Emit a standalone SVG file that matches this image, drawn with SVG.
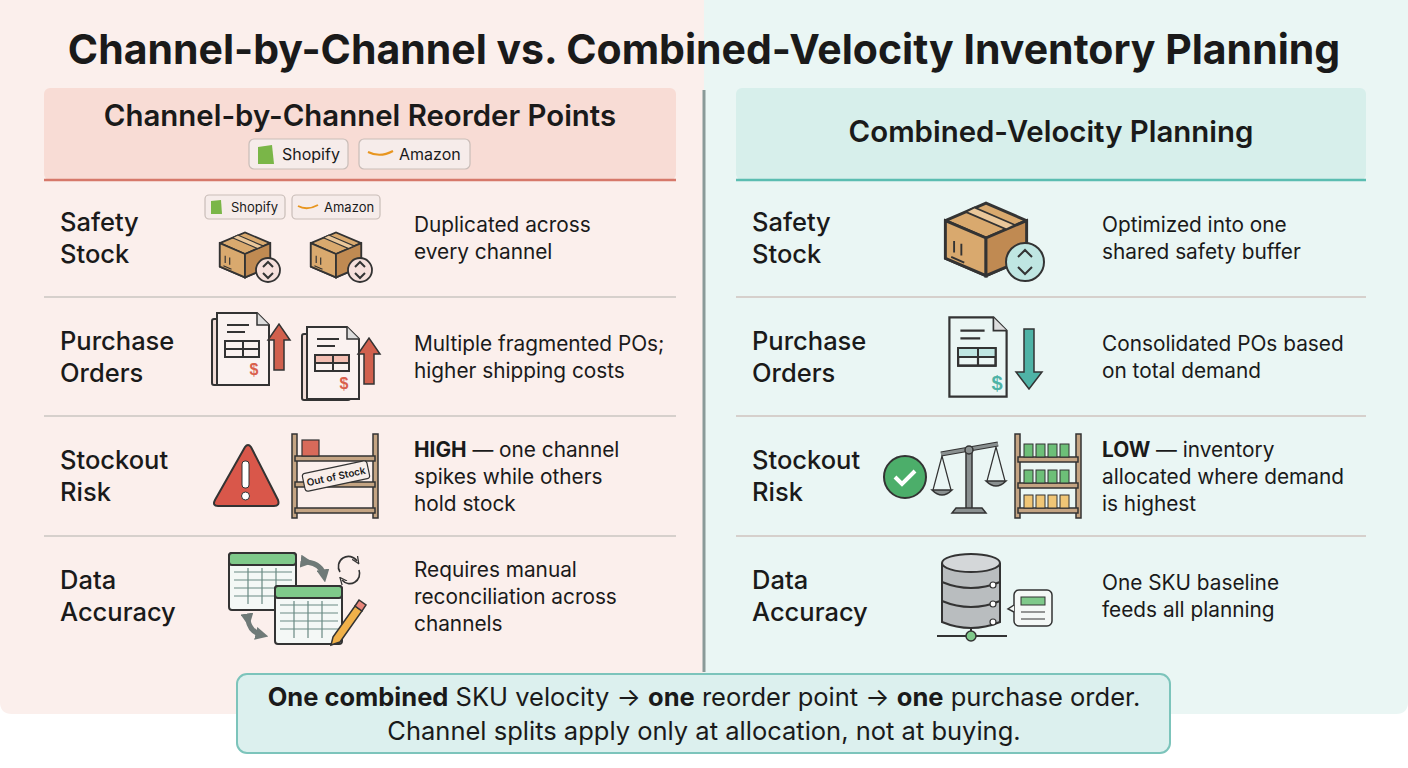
<svg xmlns="http://www.w3.org/2000/svg" width="1408" height="768" viewBox="0 0 1408 768">
<style>
.t{font-family:Inter,"Liberation Sans",sans-serif;fill:#1a1a1a}
.h{font-size:29.4px;font-weight:600}
.lb{font-size:25.5px;font-weight:500}
.d{font-size:20.8px}
.sep{stroke:#d6d0cc;stroke-width:2}
.ln{stroke:#333;stroke-width:2;fill:none}
.chip{fill:#f6ecea;stroke:#c9bdb8;stroke-width:1.2}
</style>
<defs>
<g id="box">
<path d="M-28,-12 L0,-24 L28,-12 L28,14 L0,26 L-28,14Z" fill="#d9a96e" stroke="#333" stroke-width="2"/>
<path d="M-28,-12 L0,0 L28,-12 M0,0 L0,26" class="ln"/>
<path d="M-28,-12 L0,0 L0,26 L-28,14Z" fill="#d9a96e" stroke="#333" stroke-width="2"/>
<path d="M0,0 L28,-12 L28,14 L0,26Z" fill="#c08a52" stroke="#333" stroke-width="2"/>
<path d="M-14,-18 L14,-6 L20,-9 L-8,-21Z" fill="#eac79a" stroke="#333" stroke-width="1.2"/>
<path d="M-22,10 V2 M-17,12 V4 M-24,13 L-15,17" stroke="#333" stroke-width="1.3"/>
</g>
<g id="doc">
<path d="M-26,-36 L14,-36 L26,-24 L26,36 L-26,36Z" stroke="#333" stroke-width="2"/>
<path d="M14,-36 L14,-24 L26,-24" stroke="#333" stroke-width="1.5" fill="#ddd"/>
<path d="M-16,-24 H6 M-16,-17 H2" class="ln"/>
<rect x="-18" y="-8" width="34" height="16" fill="none" stroke="#333" stroke-width="2"/>
<path d="M-18,0 H16 M0,-8 V8" class="ln"/>
</g>
<marker id="ah" viewBox="0 0 10 10" refX="5" refY="5" markerWidth="2.6" markerHeight="2.6" orient="auto"><path d="M0,0 L10,5 L0,10Z" fill="#6f7a78"/></marker>
<marker id="ah2" viewBox="0 0 10 10" refX="5" refY="5" markerWidth="5" markerHeight="5" orient="auto"><path d="M0,1 L9,5 L0,9" fill="none" stroke="#333" stroke-width="1.6"/></marker>
</defs>
<rect width="1408" height="768" fill="#fff"/>
<path d="M0,0 H704 V714 H12 Q0,714 0,702Z" fill="#fbefec"/>
<path d="M704,0 H1408 V702 Q1408,714 1396,714 H704Z" fill="#eaf6f4"/>
<text x="704" y="64" text-anchor="middle" class="t" font-size="41" font-weight="700">Channel-by-Channel vs. Combined-Velocity Inventory Planning</text>
<line x1="704" y1="90" x2="704" y2="672" stroke="#8a9a98" stroke-width="3"/>

<g id="left-header">
<rect x="44" y="88" width="632" height="92" rx="6" fill="#f8dcd5"/>
<line x1="44" y1="180" x2="676" y2="180" stroke="#d6786a" stroke-width="2.5"/>
<text x="360" y="126" text-anchor="middle" class="t h">Channel-by-Channel Reorder Points</text>
<rect x="249" y="139" width="99" height="30" rx="5" class="chip"/>
<path d="M258,147 L272,145 L274,164 L258,164Z" fill="#7ab648"/>
<text x="282" y="160" class="t" font-size="16">Shopify</text>
<rect x="359" y="139" width="111" height="30" rx="5" class="chip"/>
<path d="M368,152 Q380,158 393,151" stroke="#e8951e" stroke-width="2" fill="none"/>
<text x="399" y="160" class="t" font-size="16">Amazon</text>
</g>
<g id="right-header">
<rect x="736" y="88" width="630" height="92" rx="6" fill="#d7efeb"/>
<line x1="736" y1="180" x2="1366" y2="180" stroke="#5bbdb1" stroke-width="2.5"/>
<text x="1051" y="142" text-anchor="middle" class="t h">Combined-Velocity Planning</text>
</g>

<g id="separators">
<line x1="44" y1="297" x2="676" y2="297" class="sep"/>
<line x1="44" y1="416" x2="676" y2="416" class="sep"/>
<line x1="44" y1="536" x2="676" y2="536" class="sep"/>
<line x1="736" y1="297" x2="1366" y2="297" class="sep"/>
<line x1="736" y1="416" x2="1366" y2="416" class="sep"/>
<line x1="736" y1="536" x2="1366" y2="536" class="sep"/>
</g>

<g id="left-safety">
<text class="t lb"><tspan x="60" y="231">Safety</tspan><tspan x="60" y="263">Stock</tspan></text>
<rect x="205" y="195" width="80" height="24" rx="4" class="chip"/>
<path d="M211,201 L221,200 L222,214 L211,214Z" fill="#7ab648"/>
<text x="231" y="212" class="t" font-size="13">Shopify</text>
<rect x="292" y="195" width="88" height="24" rx="4" class="chip"/>
<path d="M298,206 Q307,211 318,205" stroke="#e8951e" stroke-width="1.8" fill="none"/>
<text x="324" y="212" class="t" font-size="13">Amazon</text>
<use href="#box" transform="translate(245,254) scale(0.9)"/>
<circle cx="268" cy="270" r="12" fill="#f6e0dc" stroke="#333" stroke-width="1.8"/>
<path d="M263,267 L268,262 L273,267 M263,273 L268,278 L273,273" class="ln" stroke-width="1.5"/>
<use href="#box" transform="translate(336,254) scale(0.9)"/>
<circle cx="360" cy="270" r="12" fill="#f6e0dc" stroke="#333" stroke-width="1.8"/>
<path d="M355,267 L360,262 L365,267 M355,273 L360,278 L365,273" class="ln" stroke-width="1.5"/>
<text class="t d"><tspan x="414" y="232">Duplicated across</tspan><tspan x="414" y="259">every channel</tspan></text>
</g>

<g id="left-po">
<text class="t lb"><tspan x="60" y="350">Purchase</tspan><tspan x="60" y="382">Orders</tspan></text>
<rect x="212" y="319" width="48" height="66" rx="2" fill="#f0dcd6" stroke="#333" stroke-width="2"/>
<rect x="225" y="341" width="34" height="8" fill="#f2b8ab"/>
<use href="#doc" transform="translate(243,349)" fill="#faf2f0"/>
<text x="254" y="375" text-anchor="middle" fill="#d9604d" font-family="Liberation Sans,sans-serif" font-size="16" font-weight="700">$</text>
<path d="M274,370 V340 H268 L279,324 L290,340 H284 V370Z" fill="#d1604d" stroke="#333" stroke-width="1.5"/>
<rect x="302" y="334" width="48" height="66" rx="2" fill="#f0dcd6" stroke="#333" stroke-width="2"/>
<use href="#doc" transform="translate(333,363)" fill="#faf2f0"/>
<rect x="316" y="356" width="33" height="7" fill="#f2b8ab" opacity="0.9"/>
<path d="M315,355 H349 V371 H315Z M315,363 H349 M333,355 V371" fill="none" stroke="#333" stroke-width="2"/>
<text x="344" y="389" text-anchor="middle" fill="#d9604d" font-family="Liberation Sans,sans-serif" font-size="16" font-weight="700">$</text>
<path d="M364,384 V354 H358 L369,338 L380,354 H374 V384Z" fill="#d1604d" stroke="#333" stroke-width="1.5"/>
<text class="t d"><tspan x="414" y="351">Multiple fragmented POs;</tspan><tspan x="414" y="378">higher shipping costs</tspan></text>
</g>

<g id="left-risk">
<text class="t lb"><tspan x="60" y="469">Stockout</tspan><tspan x="60" y="501">Risk</tspan></text>
<path d="M245,447 Q248,443 251,447 L278,500 Q280,506 274,506 L218,506 Q212,506 215,500Z" fill="#d9574a" stroke="#333" stroke-width="2"/>
<rect x="242" y="461" width="7" height="27" rx="3" fill="#fff" stroke="#333" stroke-width="1"/>
<circle cx="245.5" cy="496" r="4" fill="#fff" stroke="#333" stroke-width="1"/>
<g fill="#c4a483" stroke="#333" stroke-width="1.5">
<rect x="292" y="434" width="5" height="84"/><rect x="373" y="434" width="5" height="84"/>
<rect x="295" y="456" width="80" height="5"/><rect x="295" y="482" width="80" height="5"/><rect x="295" y="508" width="80" height="5"/>
</g>
<rect x="302" y="440" width="17" height="16" fill="#d86a5a" stroke="#333" stroke-width="1.2"/>
<g transform="rotate(-12 336 476)"><rect x="303" y="467" width="66" height="18" rx="3" fill="#f8eeea" stroke="#333" stroke-width="1.2"/><text x="336" y="480" text-anchor="middle" class="t" font-size="10" font-weight="600">Out of Stock</text></g>
<text class="t d"><tspan x="414" y="457" font-weight="700">HIGH</tspan><tspan> — one channel</tspan><tspan x="414" y="484">spikes while others</tspan><tspan x="414" y="511">hold stock</tspan></text>
</g>

<g id="left-data">
<text class="t lb"><tspan x="60" y="589">Data</tspan><tspan x="60" y="621">Accuracy</tspan></text>
<rect x="229" y="553" width="67" height="57" rx="3" fill="#f4f8f6" stroke="#333" stroke-width="2"/>
<rect x="229" y="553" width="67" height="12" rx="3" fill="#7fc98a" stroke="#333" stroke-width="2"/>
<path d="M234,572 H292 M234,580 H292 M234,588 H292 M234,596 H292 M248,568 V604 M262,568 V604 M276,568 V604" stroke="#6a8a84" stroke-width="1.2"/>
<rect x="275" y="586" width="67" height="58" rx="3" fill="#f4f8f6" stroke="#333" stroke-width="2"/>
<rect x="275" y="586" width="67" height="12" rx="3" fill="#7fc98a" stroke="#333" stroke-width="2"/>
<path d="M280,605 H338 M280,613 H338 M280,621 H338 M280,629 H338 M294,601 V638 M308,601 V638 M322,601 V638" stroke="#6a8a84" stroke-width="1.2"/>
<path d="M307,562 Q322,564 324,576" stroke="#6f7a78" stroke-width="5" fill="none" marker-start="url(#ah)" marker-end="url(#ah)"/>
<path d="M248,620 Q250,632 262,635" stroke="#6f7a78" stroke-width="5" fill="none" marker-start="url(#ah)" marker-end="url(#ah)"/>
<path d="M340,572 A10,10 0 0 1 357,561" stroke="#333" stroke-width="1.6" fill="none" marker-end="url(#ah2)"/>
<path d="M359,570 A10,10 0 0 1 342,580" stroke="#333" stroke-width="1.6" fill="none" marker-end="url(#ah2)"/>
<path d="M333,637 L355,606 L362,611 L340,642 L331,645Z" fill="#f0b14a" stroke="#333" stroke-width="1.5"/>
<path d="M355,606 L359,600 L366,605 L362,611Z" fill="#e9857a" stroke="#333" stroke-width="1.5"/>
<text class="t d"><tspan x="414" y="577">Requires manual</tspan><tspan x="414" y="604">reconciliation across</tspan><tspan x="414" y="631">channels</tspan></text>
</g>

<g id="right-safety">
<text class="t lb"><tspan x="752" y="231">Safety</tspan><tspan x="752" y="263">Stock</tspan></text>
<use href="#box" transform="translate(986,238) scale(1.45)"/>
<circle cx="1025" cy="262" r="19" fill="#bfe6e2" stroke="#333" stroke-width="2"/>
<path d="M1018,257 L1025,250 L1032,257 M1018,267 L1025,274 L1032,267" class="ln"/>
<text class="t d"><tspan x="1102" y="232">Optimized into one</tspan><tspan x="1102" y="259">shared safety buffer</tspan></text>
</g>

<g id="right-po">
<text class="t lb"><tspan x="752" y="350">Purchase</tspan><tspan x="752" y="382">Orders</tspan></text>
<rect x="960" y="348" width="36" height="9" fill="#bfe6e2"/>
<use href="#doc" transform="translate(978,357) scale(1.1)" fill="#eaf6f4"/>
<rect x="959" y="349" width="36" height="8" fill="#bfe6e2"/>
<path d="M958,348 H995.6 V365.6 H958Z M958,357 H995.6 M978,348 V365.6" fill="none" stroke="#333" stroke-width="2"/>
<text x="997" y="390" text-anchor="middle" fill="#4fb3a6" font-family="Liberation Sans,sans-serif" font-size="20" font-weight="700">$</text>
<path d="M1024,329 H1034 V372 H1042 L1029,389 L1016,372 H1024Z" fill="#4fb3a6" stroke="#333" stroke-width="1.5"/>
<text class="t d"><tspan x="1102" y="351">Consolidated POs based</tspan><tspan x="1102" y="378">on total demand</tspan></text>
</g>

<g id="right-risk">
<text class="t lb"><tspan x="752" y="469">Stockout</tspan><tspan x="752" y="501">Risk</tspan></text>
<circle cx="905" cy="477" r="21" fill="#4cae6a" stroke="#333" stroke-width="2"/>
<path d="M895,477 L902,484 L915,471" stroke="#fff" stroke-width="4" fill="none"/>
<path d="M941,454 L998,444" stroke="#333" stroke-width="5"/>
<path d="M941,454 L998,444" stroke="#8a9090" stroke-width="3"/>
<rect x="966" y="450" width="6" height="60" fill="#8a9090" stroke="#333" stroke-width="1.5"/>
<circle cx="969" cy="450" r="4" fill="#8a9090" stroke="#333" stroke-width="1.5"/>
<path d="M952,513 H986 L982,508 H956Z" fill="#8a9090" stroke="#333" stroke-width="1.5"/>
<path d="M942,456 L933,490 M942,456 L951,490 M996,447 L987,481 M996,447 L1005,481" stroke="#333" stroke-width="1.2"/>
<path d="M932,490 H952 Q942,500 932,490Z M986,481 H1006 Q996,491 986,481Z" fill="#8a9090" stroke="#333" stroke-width="1.5"/>
<g fill="#c4a483" stroke="#333" stroke-width="1.5">
<rect x="1015" y="434" width="5" height="84"/><rect x="1076" y="434" width="5" height="84"/>
<rect x="1018" y="457" width="60" height="5"/><rect x="1018" y="483" width="60" height="5"/><rect x="1018" y="508" width="60" height="5"/>
</g>
<g stroke="#333" stroke-width="1">
<g fill="#6dbf78"><rect x="1024" y="444" width="9" height="13"/><rect x="1036" y="444" width="9" height="13"/><rect x="1048" y="444" width="9" height="13"/><rect x="1060" y="444" width="9" height="13"/>
<rect x="1024" y="470" width="9" height="13"/><rect x="1036" y="470" width="9" height="13"/><rect x="1048" y="470" width="9" height="13"/><rect x="1060" y="470" width="9" height="13"/></g>
<g fill="#f0c676"><rect x="1024" y="495" width="9" height="13"/><rect x="1036" y="495" width="9" height="13"/><rect x="1048" y="495" width="9" height="13"/><rect x="1060" y="495" width="9" height="13"/></g>
</g>
<text class="t d"><tspan x="1102" y="457" font-weight="700">LOW</tspan><tspan> — inventory</tspan><tspan x="1102" y="484">allocated where demand</tspan><tspan x="1102" y="511">is highest</tspan></text>
</g>

<g id="right-data">
<text class="t lb"><tspan x="752" y="589">Data</tspan><tspan x="752" y="621">Accuracy</tspan></text>
<g fill="#b9bdbf" stroke="#333" stroke-width="2">
<path d="M942,601 V622 Q971,634 1000,622 V601"/>
<path d="M942,582 V601 Q971,613 1000,601 V582"/>
<path d="M942,563 V582 Q971,594 1000,582 V563"/>
<ellipse cx="971" cy="563" rx="29" ry="9" fill="#d4d7d9"/>
</g>
<g fill="#fff" stroke="#333" stroke-width="1.2"><circle cx="993" cy="585" r="3"/><circle cx="993" cy="604" r="3"/><circle cx="993" cy="622" r="3"/></g>
<path d="M971,628 V636 M937,636 H1007" stroke="#333" stroke-width="2"/>
<circle cx="971" cy="636" r="5" fill="#7fc98a" stroke="#333" stroke-width="1.5"/>
<rect x="1014" y="590" width="38" height="36" rx="5" fill="#f4f8f6" stroke="#333" stroke-width="1.5"/>
<path d="M1014,605 L1008,609 L1014,612" fill="#f4f8f6" stroke="#333" stroke-width="1.5"/>
<rect x="1021" y="597" width="24" height="8" fill="#7fc98a" stroke="#333" stroke-width="1"/>
<path d="M1021,612 H1045 M1021,619 H1045" stroke="#333" stroke-width="1.2"/>
<text class="t d"><tspan x="1102" y="590">One SKU baseline</tspan><tspan x="1102" y="617">feeds all planning</tspan></text>
</g>

<g id="summary">
<rect x="237" y="674" width="933" height="79" rx="10" fill="#dcf0ee" stroke="#7cc4bb" stroke-width="2"/>
<text x="704" y="706" text-anchor="middle" class="t" font-size="25.5"><tspan font-weight="700">One combined</tspan> SKU velocity → <tspan font-weight="700">one</tspan> reorder point → <tspan font-weight="700">one</tspan> purchase order.</text>
<text x="704" y="740" text-anchor="middle" class="t" font-size="25.5">Channel splits apply only at allocation, not at buying.</text>
</g>
</svg>
